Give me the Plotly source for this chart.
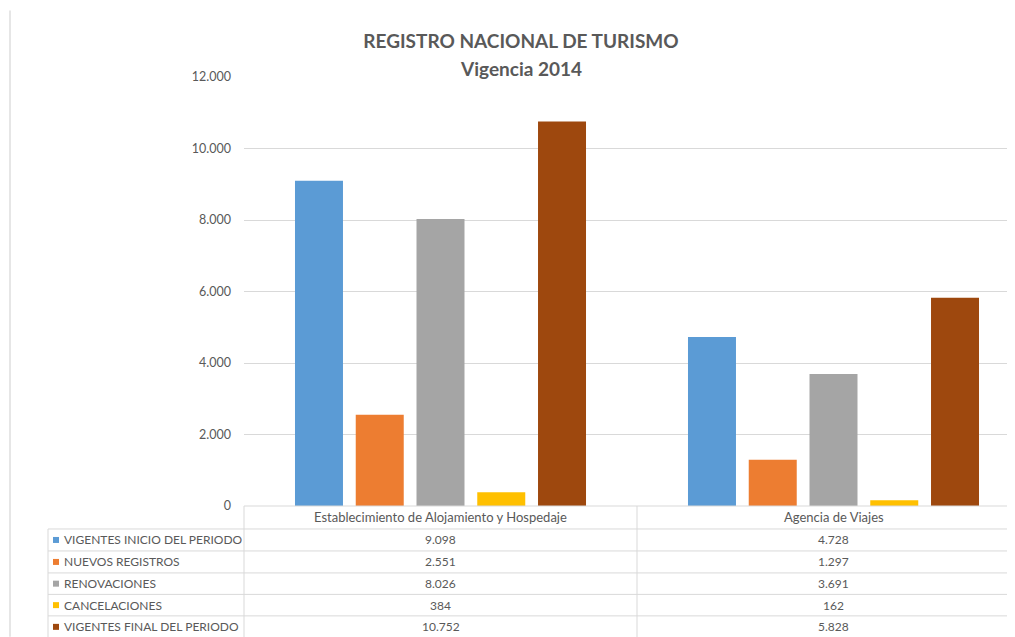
import plotly.graph_objects as go

# ---------------- data ----------------
categories = ["Establecimiento de Alojamiento y Hospedaje", "Agencia de Viajes"]
series_names = [
    "VIGENTES INICIO DEL PERIODO",
    "NUEVOS REGISTROS",
    "RENOVACIONES",
    "CANCELACIONES",
    "VIGENTES FINAL DEL PERIODO",
]
vigentes_inicio = [9098, 4728]
nuevos_registros = [2551, 1297]
renovaciones = [8026, 3691]
cancelaciones = [384, 162]
vigentes_final = [10752, 5828]
series_values = [vigentes_inicio, nuevos_registros, renovaciones, cancelaciones, vigentes_final]
title_line1 = "REGISTRO NACIONAL DE TURISMO"
title_line2 = "Vigencia 2014"

# ---------------- style ----------------
colors = ["#5B9BD5", "#ED7D31", "#A5A5A5", "#FFC000", "#9E480E"]
OFF = 8                      # page body margin offset
SW, SH = 1015, 637           # screen size
W, H = SW - OFF, SH - OFF    # figure size
# plot area in screen pixels
PL, PR, PT, PB = 244, 1015, 76.5, 506
L = PL - OFF
T = PT - OFF
B = H - (PB - OFF)
R = 0
PW, PH = W - L - R, H - T - B
CAT_W = 393.0
TXT = "#595959"
LINE = "#d9d9d9"
FONT = "Lato"


def px_x(p):
    return (p - OFF - L) / PW


def px_y(p):
    return (H - B - (p - OFF)) / PH


def fmt(v):
    return f"{v:,}".replace(",", ".")


fig = go.Figure()
for name, vals, col in zip(series_names, series_values, colors):
    fig.add_trace(go.Bar(name=name, x=categories, y=vals, marker=dict(color=col, line=dict(width=0))))

shapes = []
annotations = []

row_lines = [529, 551, 573, 594.5, 616, 638]
header_top = PB
shapes.append(dict(type="line", xref="paper", yref="paper", x0=0, x1=1,
                   y0=px_y(header_top), y1=px_y(header_top), line=dict(color=LINE, width=1)))
for yl in row_lines:
    shapes.append(dict(type="line", xref="paper", yref="paper", x0=px_x(48), x1=1,
                       y0=px_y(yl), y1=px_y(yl), line=dict(color=LINE, width=1)))
shapes.append(dict(type="line", xref="paper", yref="paper", x0=px_x(48), x1=px_x(48),
                   y0=px_y(row_lines[0]), y1=px_y(row_lines[-1]), line=dict(color=LINE, width=1)))
shapes.append(dict(type="line", xref="paper", yref="paper", x0=0, x1=0,
                   y0=px_y(header_top), y1=px_y(row_lines[-1]), line=dict(color=LINE, width=1)))
shapes.append(dict(type="line", xref="x", yref="paper", x0=0.5, x1=0.5,
                   y0=px_y(header_top), y1=px_y(row_lines[-1]), line=dict(color=LINE, width=1)))
# page artifact line on far left
shapes.append(dict(type="line", xref="paper", yref="paper", x0=px_x(10), x1=px_x(10),
                   y0=px_y(10), y1=px_y(SH), line=dict(color="#e6e6e6", width=2)))

for i, c in enumerate(categories):
    annotations.append(dict(xref="x", yref="paper", x=i, y=px_y((header_top + row_lines[0]) / 2),
                            text=c, showarrow=False, xanchor="center", yanchor="middle",
                            font=dict(family=FONT, size=13, color=TXT)))

for r, (name, vals, col) in enumerate(zip(series_names, series_values, colors)):
    yc = (row_lines[r] + row_lines[r + 1]) / 2
    shapes.append(dict(type="rect", xref="paper", yref="paper", x0=px_x(53), x1=px_x(59),
                       y0=px_y(yc - 3), y1=px_y(yc + 3), fillcolor=col, line=dict(width=0)))
    annotations.append(dict(xref="paper", yref="paper", x=px_x(62), y=px_y(yc), text=name,
                            showarrow=False, xanchor="left", yanchor="middle",
                            font=dict(family=FONT, size=12, color=TXT)))
    for i, v in enumerate(vals):
        annotations.append(dict(xref="x", yref="paper", x=i, y=px_y(yc), text=fmt(v),
                                showarrow=False, xanchor="center", yanchor="middle",
                                font=dict(family=FONT, size=12, color=TXT)))

annotations.append(dict(xref="paper", yref="paper", x=px_x(521), y=px_y(68), text="<b>" + title_line2 + "</b>",
                        showarrow=False, xanchor="center", yanchor="middle",
                        font=dict(family=FONT, size=19, color=TXT)))

fig.update_layout(
    width=W, height=H,
    margin=dict(l=L, r=R, t=T, b=B, autoexpand=False),
    paper_bgcolor="white", plot_bgcolor="white",
    separators=",.",
    barmode="group", bargap=0.227, bargroupgap=0.21,
    showlegend=False,
    title=dict(text="<b>" + title_line1 + "</b>", xref="paper", x=px_x(521), xanchor="center",
               yref="container", y=1 - (41 - OFF) / H, yanchor="middle",
               font=dict(family=FONT, size=19, color=TXT)),
    xaxis=dict(type="category", range=[-0.5, -0.5 + PW / CAT_W], showticklabels=False,
               showgrid=False, zeroline=False, showline=False, ticks=""),
    yaxis=dict(range=[0, 12000], dtick=2000, tickformat=",d", showgrid=True, gridcolor=LINE,
               gridwidth=1, zeroline=False, showline=False, ticks="", ticklabelstandoff=12,
               tickfont=dict(family=FONT, size=12.5, color=TXT)),
    shapes=shapes,
    annotations=annotations,
)

fig.write_html("out.html")
